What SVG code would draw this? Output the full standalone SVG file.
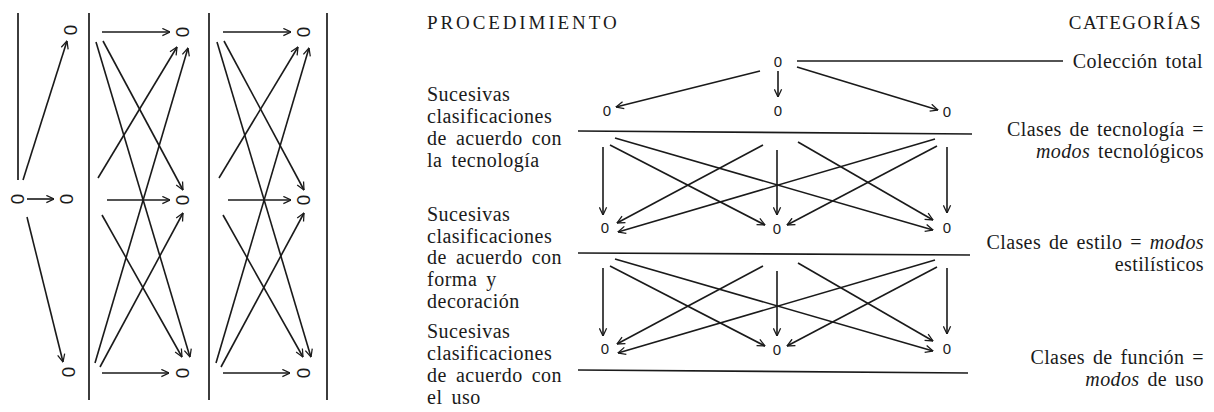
<svg xmlns="http://www.w3.org/2000/svg" width="1214" height="412" viewBox="0 0 1214 412">
<defs>
<marker id="ah" viewBox="0 0 10 10" refX="9.5" refY="5" markerWidth="9" markerHeight="9" markerUnits="userSpaceOnUse" orient="auto">
<path d="M1,1 L9.5,5 L1,9" fill="none" stroke="#1a1a1a" stroke-width="1.4"/>
</marker>
<style>
.ln{stroke:#1a1a1a;stroke-width:1.7;fill:none}
.ar{stroke:#1a1a1a;stroke-width:1.6;fill:none;marker-end:url(#ah)}
.z{font-family:"Liberation Sans",Arial,sans-serif;font-size:15px;fill:#1a1a1a;text-anchor:middle}
.zr{font-family:"Liberation Sans",Arial,sans-serif;font-size:19px;fill:#1a1a1a;text-anchor:middle;dominant-baseline:central}
.t{font-family:"Liberation Serif","Times New Roman",serif;font-size:20px;fill:#1a1a1a;letter-spacing:0.5px;word-spacing:3.5px}
.te{font-family:"Liberation Serif","Times New Roman",serif;font-size:20px;fill:#1a1a1a;letter-spacing:0.4px;word-spacing:2.5px;text-anchor:end}
.h{font-family:"Liberation Serif","Times New Roman",serif;font-size:19px;fill:#1a1a1a;letter-spacing:2.9px}
</style>
</defs>
<rect width="1214" height="412" fill="#ffffff"/>

<!-- LEFT PANEL -->
<g id="left-panel-frame">
<line class="ln" x1="18" y1="13" x2="18" y2="180"/>
<line class="ln" x1="89" y1="13" x2="89" y2="400"/>
<line class="ln" x1="209" y1="13" x2="209" y2="400"/>
<line class="ln" x1="327" y1="13" x2="327" y2="400"/>
</g>
<g id="lp-nodes">
<g id="lp-a1"><text class="zr" x="70" y="30" transform="rotate(90 70 30)">0</text></g>
<g id="lp-a0"><text class="zr" x="17" y="199" transform="rotate(90 17 199)">0</text></g>
<g id="lp-a2"><text class="zr" x="66" y="199" transform="rotate(90 66 199)">0</text></g>
<g id="lp-a3"><text class="zr" x="68" y="372" transform="rotate(90 68 372)">0</text></g>
<g id="lp-b1"><text class="zr" x="182" y="32" transform="rotate(90 182 32)">0</text></g>
<g id="lp-b2"><text class="zr" x="182" y="200" transform="rotate(90 182 200)">0</text></g>
<g id="lp-b3"><text class="zr" x="182" y="373" transform="rotate(90 182 373)">0</text></g>
<g id="lp-c1"><text class="zr" x="303" y="32" transform="rotate(90 303 32)">0</text></g>
<g id="lp-c2"><text class="zr" x="303" y="200" transform="rotate(90 303 200)">0</text></g>
<g id="lp-c3"><text class="zr" x="303" y="373" transform="rotate(90 303 373)">0</text></g>
</g>
<g id="lp-connectors">
<line class="ar" x1="23" y1="180" x2="67" y2="41"/>
<line class="ar" x1="27" y1="199" x2="54" y2="199"/>
<line class="ar" x1="27" y1="217" x2="63" y2="362"/>

<line class="ar" x1="102" y1="32" x2="170" y2="32"/>
<line class="ar" x1="107" y1="200" x2="170" y2="200"/>
<line class="ar" x1="102" y1="373" x2="169" y2="373"/>
<line class="ar" x1="103" y1="41" x2="183" y2="190"/>
<line class="ar" x1="96" y1="42" x2="190" y2="357"/>
<line class="ar" x1="98" y1="178" x2="177" y2="47"/>
<line class="ar" x1="95" y1="363" x2="188" y2="48"/>
<line class="ar" x1="102" y1="215" x2="182" y2="357"/>
<line class="ar" x1="100" y1="367" x2="183" y2="213"/>

<line class="ar" x1="223" y1="32" x2="291" y2="32"/>
<line class="ar" x1="228" y1="200" x2="291" y2="200"/>
<line class="ar" x1="223" y1="373" x2="290" y2="373"/>
<line class="ar" x1="224" y1="41" x2="304" y2="190"/>
<line class="ar" x1="217" y1="42" x2="311" y2="357"/>
<line class="ar" x1="219" y1="178" x2="298" y2="47"/>
<line class="ar" x1="216" y1="363" x2="309" y2="48"/>
<line class="ar" x1="223" y1="215" x2="303" y2="357"/>
<line class="ar" x1="221" y1="367" x2="304" y2="213"/>
</g>

<!-- RIGHT DIAGRAM -->
<g id="headers">
<text class="h" x="427" y="29">PROCEDIMIENTO</text>
<text class="h" x="1202" y="29" text-anchor="end" style="letter-spacing:1.5px">CATEGORÍAS</text>
</g>

<g id="procedure-labels">
<text class="t" x="427"><tspan x="427" y="101">Sucesivas</tspan><tspan x="427" y="123">clasificaciones</tspan><tspan x="427" y="145">de acuerdo con</tspan><tspan x="427" y="167">la tecnología</tspan></text>
<text class="t" x="427"><tspan x="427" y="221">Sucesivas</tspan><tspan x="427" y="243">clasificaciones</tspan><tspan x="427" y="264">de acuerdo con</tspan><tspan x="427" y="286">forma y</tspan><tspan x="427" y="308">decoración</tspan></text>
<text class="t" x="427"><tspan x="427" y="338">Sucesivas</tspan><tspan x="427" y="360">clasificaciones</tspan><tspan x="427" y="382">de acuerdo con</tspan><tspan x="427" y="404">el uso</tspan></text>
</g>

<g id="category-labels">
<text class="te" x="1203" y="68">Colección total</text>
<text class="te" x="1204" y="136">Clases de tecnología =</text>
<text class="te" x="1204" y="158"><tspan font-style="italic">modos</tspan> tecnológicos</text>
<text class="te" x="1204" y="249">Clases de estilo = <tspan font-style="italic">modos</tspan></text>
<text class="te" x="1204" y="271">estilísticos</text>
<text class="te" x="1204" y="364">Clases de función =</text>
<text class="te" x="1204" y="386"><tspan font-style="italic">modos</tspan> de uso</text>
</g>

<g id="rd-nodes">
<g id="n-top"><text class="z" x="778" y="67">0</text></g>
<g id="n-1l"><text class="z" x="607" y="116">0</text></g>
<g id="n-1m"><text class="z" x="778" y="116">0</text></g>
<g id="n-1r"><text class="z" x="947" y="117">0</text></g>
<g id="n-2l"><text class="z" x="605" y="233">0</text></g>
<g id="n-2m"><text class="z" x="777" y="234">0</text></g>
<g id="n-2r"><text class="z" x="947" y="233">0</text></g>
<g id="n-3l"><text class="z" x="605" y="354">0</text></g>
<g id="n-3m"><text class="z" x="777" y="355">0</text></g>
<g id="n-3r"><text class="z" x="947" y="354">0</text></g>
</g>

<g id="rd-connectors">
<line class="ln" x1="797" y1="61" x2="1063" y2="61"/>
<line class="ln" x1="578" y1="131" x2="972" y2="134"/>
<line class="ln" x1="578" y1="253" x2="970" y2="255"/>
<line class="ln" x1="578" y1="370" x2="968" y2="373"/>

<line class="ar" x1="760" y1="71" x2="616" y2="107"/>
<line class="ar" x1="778" y1="71" x2="778" y2="97"/>
<line class="ar" x1="797" y1="67" x2="938" y2="110"/>

<line class="ar" x1="603" y1="147" x2="603" y2="215"/>
<line class="ar" x1="610" y1="145" x2="765" y2="225"/>
<line class="ar" x1="615" y1="138" x2="933" y2="230"/>
<line class="ar" x1="763" y1="145" x2="617" y2="223"/>
<line class="ar" x1="798" y1="142" x2="933" y2="220"/>
<line class="ar" x1="777" y1="150" x2="777" y2="215"/>
<line class="ar" x1="935" y1="139" x2="618" y2="232"/>
<line class="ar" x1="937" y1="146" x2="787" y2="225"/>
<line class="ar" x1="947" y1="147" x2="947" y2="213"/>

<line class="ar" x1="603" y1="268" x2="603" y2="336"/>
<line class="ar" x1="610" y1="266" x2="765" y2="346"/>
<line class="ar" x1="615" y1="259" x2="933" y2="351"/>
<line class="ar" x1="763" y1="266" x2="617" y2="344"/>
<line class="ar" x1="798" y1="263" x2="933" y2="341"/>
<line class="ar" x1="777" y1="271" x2="777" y2="336"/>
<line class="ar" x1="935" y1="260" x2="618" y2="353"/>
<line class="ar" x1="937" y1="267" x2="787" y2="346"/>
<line class="ar" x1="947" y1="268" x2="947" y2="334"/>
</g>
</svg>
